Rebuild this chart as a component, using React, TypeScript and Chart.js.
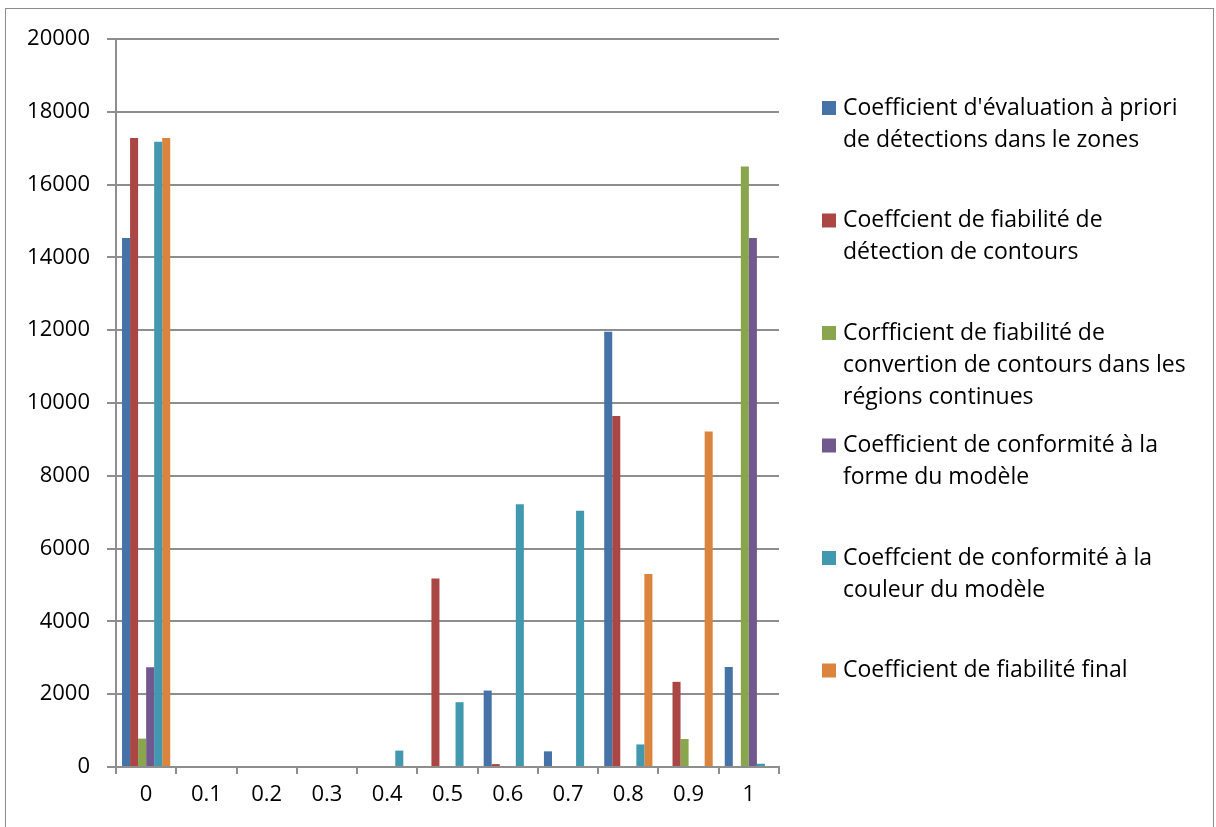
import React, { useEffect, useRef } from "react";
import { Chart, registerables } from "chart.js";
Chart.register(...registerables);

const categories = ["0", "0.1", "0.2", "0.3", "0.4", "0.5", "0.6", "0.7", "0.8", "0.9", "1"];

const seriesLabels: string[][] = [
  ["Coefficient d'évaluation à priori", "de détections dans le zones"],
  ["Coeffcient de fiabilité de", "détection de contours"],
  ["Corfficient de fiabilité de", "convertion de contours dans les", "régions continues"],
  ["Coefficient de conformité à la", "forme du modèle"],
  ["Coeffcient de conformité à la", "couleur du modèle"],
  ["Coefficient de fiabilité final"],
];

const seriesColors = ["#4572A7", "#AA4643", "#89A54E", "#71588F", "#4198AF", "#DB843D"];

const evaluationPriori = [14530, 0, 0, 0, 0, 0, 2100, 430, 11960, 0, 2750];
const fiabiliteDetection = [17280, 0, 0, 0, 0, 5180, 80, 0, 9640, 2340, 0];
const fiabiliteConvertion = [780, 0, 0, 0, 0, 0, 0, 0, 0, 770, 16500];
const conformiteForme = [2740, 0, 0, 0, 0, 0, 0, 0, 0, 0, 14530];
const conformiteCouleur = [17180, 0, 0, 0, 450, 1780, 7220, 7040, 620, 0, 90];
const fiabiliteFinal = [17280, 0, 0, 0, 0, 0, 0, 0, 5300, 9220, 0];

const seriesValues = [
  evaluationPriori,
  fiabiliteDetection,
  fiabiliteConvertion,
  conformiteForme,
  conformiteCouleur,
  fiabiliteFinal,
];

const yTicks = { min: 0, max: 20000, step: 2000 };

const FONT = "'Open Sans', 'Liberation Sans', sans-serif";
const GRID = "#8e8e8e";

const framePlugin = {
  id: "frameAndLegend",
  afterDraw(chart: any) {
    const ctx = chart.ctx as CanvasRenderingContext2D;
    ctx.save();
    ctx.strokeStyle = "#8c8c8c";
    ctx.lineWidth = 1;
    ctx.strokeRect(5.5, 8.5, 1208, 840);

    const boxX = 822;
    const textX = 843;
    const firstY = 108;
    const entryGap = 112.5;
    const lineGap = 32;
    ctx.font = `23px ${FONT}`;
    ctx.textBaseline = "middle";
    ctx.textAlign = "left";
    seriesLabels.forEach((lines, i) => {
      const cy = firstY + i * entryGap;
      ctx.fillStyle = seriesColors[i];
      ctx.fillRect(boxX, cy - 7, 14, 14);
      ctx.fillStyle = "#000";
      lines.forEach((line, j) => {
        ctx.fillText(line, textX, cy + j * lineGap);
      });
    });
    ctx.restore();
  },
};

export default function App() {
  const ref = useRef<HTMLCanvasElement | null>(null);
  useEffect(() => {
    if (!ref.current) return;
    const chart = new Chart(ref.current, {
      type: "bar",
      data: {
        labels: categories,
        datasets: seriesValues.map((vals, i) => ({
          label: seriesLabels[i].join(" "),
          data: vals,
          backgroundColor: seriesColors[i],
          borderWidth: 0,
          categoryPercentage: 0.8,
          barPercentage: 1.0,
        })),
      },
      options: {
        responsive: false,
        animation: false,
        devicePixelRatio: 1,
        layout: { padding: { left: 0, right: 1216 - 779, top: 39, bottom: 0 } },
        plugins: {
          legend: { display: false },
          tooltip: { enabled: false },
        },
        scales: {
          x: {
            offset: true,
            grid: {
              display: true,
              drawOnChartArea: false,
              drawTicks: true,
              tickLength: 7,
              color: GRID,
              lineWidth: 2,
              offset: true,
            },
            border: { display: true, color: GRID, width: 2 },
            ticks: {
              color: "#000",
              font: { family: FONT, size: 22 },
              padding: 8,
              maxRotation: 0,
              autoSkip: false,
            },
            afterFit: (scale: any) => {
              scale.height = 827 - 767;
            },
          },
          y: {
            min: yTicks.min,
            max: yTicks.max,
            ticks: {
              stepSize: yTicks.step,
              color: "#000",
              font: { family: FONT, size: 22 },
              padding: 17,
              callback: (v: any) => String(v),
            },
            grid: {
              color: GRID,
              lineWidth: 2,
              drawTicks: true,
              tickLength: 9,
            },
            border: { display: true, color: GRID, width: 2 },
            afterFit: (scale: any) => {
              scale.width = 116;
            },
          },
        },
      },
      plugins: [framePlugin],
    });
    return () => chart.destroy();
  }, []);
  return (
    <div style={{ position: "absolute", left: 0, top: 0, width: 1216, height: 827, background: "#fff" }}>
      <canvas ref={ref} width={1216} height={827} style={{ display: "block" }} />
    </div>
  );
}
